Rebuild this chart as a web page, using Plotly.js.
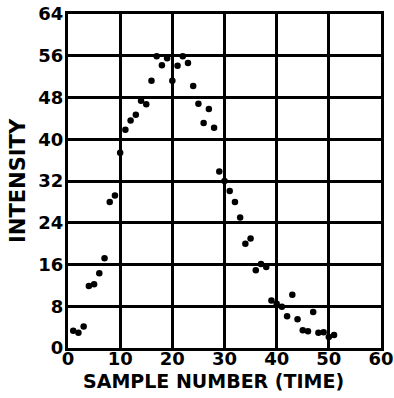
<!DOCTYPE html>
<html><head><meta charset="utf-8">
<script src="https://cdn.plot.ly/plotly-3.0.1.min.js"></script>
<style>html,body{margin:0;padding:0;background:#fff}#chart{width:394px;height:398px}</style>
</head><body><div id="chart"></div>
<script>
const sampleNumber = [1,2,3,4,5,6,7,8,9,10,11,12,13,14,15,16,17,18,19,20,21,22,23,24,25,26,27,28,29,30,31,32,33,34,35,36,37,38,39,40,41,42,43,44,45,46,47,48,49,50,51];
const intensity = [3.3,2.9,4.1,11.9,12.2,14.3,17.2,28.0,29.2,37.4,41.8,43.6,44.7,47.4,46.7,51.2,55.9,54.2,55.5,51.2,54.1,55.9,54.6,50.2,46.8,43.1,45.8,42.2,33.8,32.0,30.1,28.0,25.0,20.0,21.0,14.9,16.1,15.5,9.1,8.5,7.9,6.1,10.2,5.5,3.4,3.2,6.9,2.9,3.0,2.1,2.5];
const xTicks = [0,10,20,30,40,50,60];
const yTicks = [0,8,16,24,32,40,48,56,64];
const xTitle = 'SAMPLE NUMBER (TIME)';
const yTitle = 'INTENSITY';

const font = {family: 'DejaVu Sans, Liberation Sans, sans-serif', color: '#000', weight: 'bold'};
const axisCommon = {
  showgrid: true, gridcolor: '#000', gridwidth: 3,
  showline: true, linecolor: '#000', linewidth: 3, mirror: true,
  zeroline: false, ticks: '', fixedrange: true,
  tickfont: Object.assign({size: 18}, font)
};
Plotly.newPlot('chart', [{
  x: sampleNumber, y: intensity, type: 'scatter', mode: 'markers',
  marker: {color: '#000', size: 6.5}, cliponaxis: false
}], {
  width: 394, height: 398,
  margin: {l: 67.5, r: 13, t: 14, b: 50},
  paper_bgcolor: '#fff', plot_bgcolor: '#fff',
  showlegend: false,
  xaxis: Object.assign({}, axisCommon, {range: [0, 60], tickvals: xTicks, ticktext: xTicks.map(String), ticklabelstandoff: -8}),
  yaxis: Object.assign({}, axisCommon, {range: [0, 64], tickvals: yTicks, ticktext: yTicks.map(String), ticklabelstandoff: -2}),
  annotations: [
    {text: xTitle, xref: 'paper', yref: 'paper', x: 0.464, y: 0, yshift: -33, xanchor: 'center', yanchor: 'middle', showarrow: false, font: Object.assign({size: 19}, font)},
    {text: yTitle, xref: 'paper', yref: 'paper', x: 0, xshift: -50, y: 0.5, xanchor: 'center', yanchor: 'middle', textangle: -90, showarrow: false, font: Object.assign({size: 21}, font)}
  ]
}, {displayModeBar: false, staticPlot: true});
</script></body></html>
